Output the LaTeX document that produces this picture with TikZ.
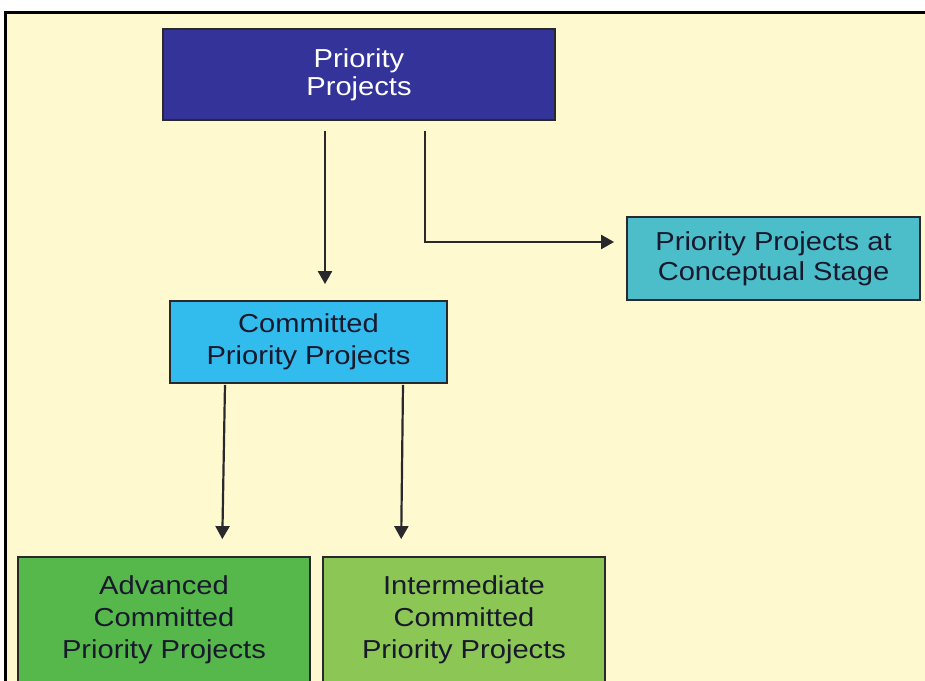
\documentclass[tikz,border=0pt]{standalone}
\usepackage{fontspec}
\setmainfont{Liberation Sans}[FakeStretch=1.12]
\usetikzlibrary{arrows.meta}
\definecolor{bgcream}{RGB}{255,249,208}
\definecolor{ppblue}{RGB}{51,51,153}
\definecolor{csteal}{RGB}{76,190,202}
\definecolor{cpsky}{RGB}{50,188,238}
\definecolor{advgreen}{RGB}{86,184,74}
\definecolor{intgreen}{RGB}{140,198,84}
\definecolor{edge}{RGB}{40,40,45}
\definecolor{txt}{RGB}{25,25,45}
\tikzset{
  boxbase/.style={draw=edge, line width=1.8pt, align=center, inner sep=0pt, text=txt},
  lines28/.style={font=\fontsize{26}{28}\selectfont},
  lines30/.style={font=\fontsize{26}{30}\selectfont},
  lines32/.style={font=\fontsize{26}{32}\selectfont},
  arr/.style={draw=edge, line width=2.2pt, -{Triangle[width=14pt,length=13pt]}},
}
\begin{document}
\begin{tikzpicture}[x=1pt,y=-1pt]
\useasboundingbox (0,0) rectangle (925,680);
\clip (0,0) rectangle (925,680);
\fill[white] (0,0) rectangle (925,680);
\fill[bgcream] (5,12) rectangle (935,690);
\draw[black, line width=3pt] (5,700) -- (5,12) -- (935,12);

\node[boxbase, lines28, fill=ppblue, text=white, minimum width=392pt, minimum height=91pt]
  (pp) at (359,74.5) {Priority\\Projects};
\node[boxbase, lines30, fill=csteal, minimum width=293pt, minimum height=83pt]
  (cs) at (773.5,258.5) {Priority Projects at\\Conceptual Stage};
\node[boxbase, lines32, fill=cpsky, minimum width=277pt, minimum height=82pt]
  (cp) at (308.5,342) {Committed\\Priority Projects};
\node[boxbase, lines32, fill=advgreen, minimum width=292pt, minimum height=126pt]
  (adv) at (164,620) {Advanced\\Committed\\Priority Projects};
\node[boxbase, lines32, fill=intgreen, minimum width=282pt, minimum height=126pt]
  (int) at (464,620) {Intermediate\\Committed\\Priority Projects};

\coordinate (c1) at (325,0);
\coordinate (c2) at (425,0);
\coordinate (c3) at (0,242);
\draw[arr, shorten <=10pt, shorten >=16pt] (pp.south -| c1) -- (cp.north -| c1);
\draw[arr, shorten <=10pt, shorten >=12pt] (pp.south -| c2) |- (cs.west |- c3);
\coordinate (c4) at (225,0);
\coordinate (c5) at (222,0);
\coordinate (c6) at (403,0);
\coordinate (c7) at (401,0);
\draw[arr, shorten <=1pt, shorten >=17pt] (cp.south -| c4) -- (adv.north -| c5);
\draw[arr, shorten <=1pt, shorten >=17pt] (cp.south -| c6) -- (int.north -| c7);
\end{tikzpicture}
\end{document}
